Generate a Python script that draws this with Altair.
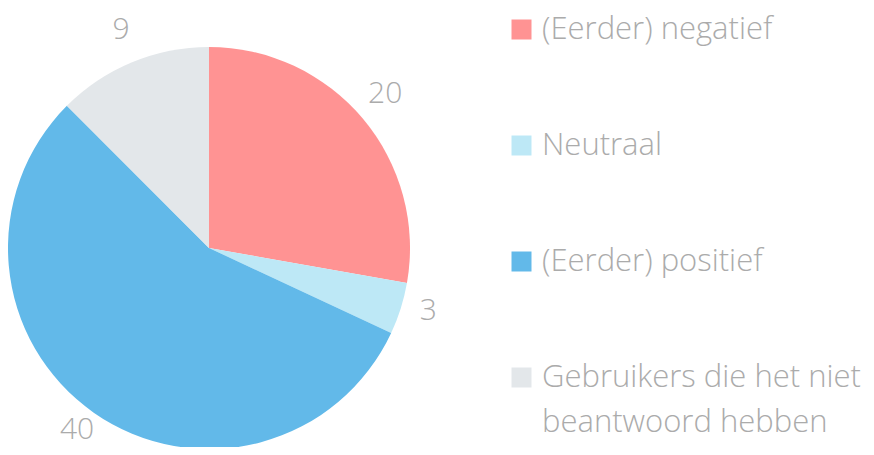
import altair as alt
import pandas as pd

categories = ["(Eerder) negatief", "Neutraal", "(Eerder) positief",
              "Gebruikers die het niet beantwoord hebben"]
values = [20, 3, 40, 9]
colors = ["#FF9393", "#BDE8F6", "#62B9E9", "#E3E7EA"]

df = pd.DataFrame({"cat": categories, "val": values, "idx": list(range(len(values)))})

FONT = "Open Sans"
TXT = "#ABABAB"
CX, CY = 201, 240

base = alt.Chart(df).encode(
    theta=alt.Theta("val:Q", stack=True),
    order=alt.Order("idx:Q"),
)

pie = base.mark_arc(outerRadius=201, x=CX, y=CY).encode(
    color=alt.Color(
        "cat:N",
        scale=alt.Scale(domain=categories, range=colors),
        sort=categories,
        legend=alt.Legend(
            title=None,
            orient="none",
            legendX=498,
            legendY=6,
            symbolType="square",
            symbolSize=400,
            symbolStrokeWidth=0,
            labelFont=FONT,
            labelFontSize=31,
            labelFontWeight=300,
            labelColor=TXT,
            labelLimit=400,
            labelOffset=5,
            rowPadding=84,
            padding=0,
            labelExpr="datum.label == 'Gebruikers die het niet beantwoord hebben' ? ['Gebruikers die het niet', 'beantwoord hebben'] : datum.label",
        ),
    )
)

labels = base.mark_text(
    radius=230, x=CX, y=CY, dy=-6, font=FONT, fontSize=30, fontWeight=300, color=TXT,
    align="center", baseline="middle",
).encode(text=alt.Text("val:Q"))

chart = (pie + labels).properties(
    width=858, height=439, padding=0, autosize=alt.AutoSizeParams(type="none")
).configure(
    style={"guide-label": {"lineHeight": 45}}
).configure_view(strokeOpacity=0)

chart.save("out.html", embed_options={"renderer": "svg", "actions": False})
